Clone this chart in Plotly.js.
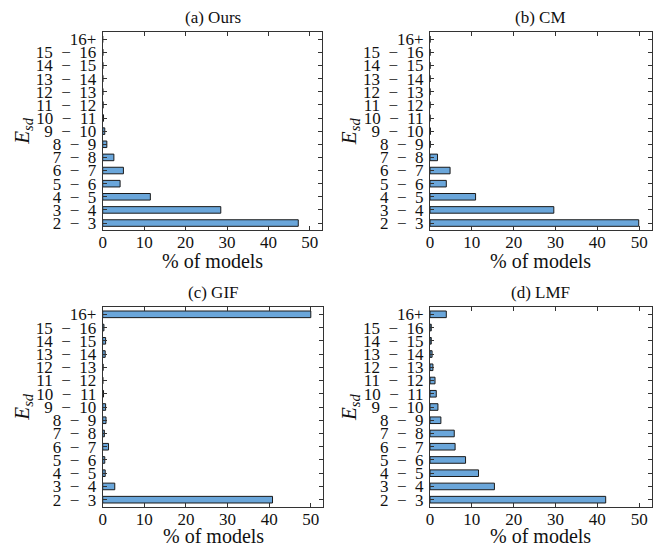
<!DOCTYPE html>
<html>
<head>
<meta charset="utf-8">
<script src="https://cdn.plot.ly/plotly-3.0.1.min.js"></script>
<style>html,body{margin:0;padding:0;background:#fff}#chart{width:662px;height:547px}</style>
</head>
<body>
<div id="chart"></div>
<script>
const categories = ["2 − 3","3 − 4","4 − 5","5 − 6","6 − 7","7 − 8","8 − 9","9 − 10","10 − 11","11 − 12","12 − 13","13 − 14","14 − 15","15 − 16","16+"];
const panelTitles = ["(a) Ours","(b) CM","(c) GIF","(d) LMF"];
const ours = [47.2, 28.5, 11.5, 4.2, 5.0, 2.7, 1.0, 0.5, 0.2, 0.1, 0.05, 0.05, 0.05, 0.05, 0.0];
const cm   = [49.9, 29.6, 10.9, 3.9, 4.8, 1.8, 0.05, 0.1, 0.0, 0.0, 0.0, 0.0, 0.0, 0.0, 0.0];
const gif  = [40.8, 2.9, 0.6, 0.5, 1.4, 0.4, 0.8, 0.7, 0.2, 0.05, 0.1, 0.6, 0.7, 0.3, 50.0];
const lmf  = [42.0, 15.4, 11.6, 8.5, 6.0, 5.8, 2.6, 1.9, 1.5, 1.2, 0.7, 0.5, 0.3, 0.3, 3.9];
const xTicks = [0, 10, 20, 30, 40, 50];
const xLabel = "% of models";
const yLabel = "<i>E</i><sub><i>sd</i></sub>";

const series = [ours, cm, gif, lmf];
const FONT = "'Liberation Serif', 'Times New Roman', serif";
const W = 662, H = 547;
// pixel boxes [left, right, top, bottom]
const boxes = [[102.7, 322.3, 32.3, 230], [430, 651.7, 32.3, 230], [102.7, 323.3, 307.3, 506.7], [430, 651.7, 307.3, 506.7]];
const xTitleGap = [31, 31, 29, 29];
const tickText = categories.map(c => c.replace(" − ", "\u2002−\u2002"));

const data = [];
const layout = {
  width: W, height: H,
  margin: {l: 0, r: 0, t: 0, b: 0},
  paper_bgcolor: "#fff", plot_bgcolor: "#fff",
  showlegend: false,
  font: {family: FONT, color: "#111", size: 15},
  annotations: []
};

series.forEach((vals, i) => {
  const n = i === 0 ? "" : String(i + 1);
  data.push({
    type: "bar", orientation: "h",
    x: vals, y: categories,
    xaxis: "x" + n, yaxis: "y" + n,
    width: 0.5,
    marker: {color: "#6aa6da", line: {color: "#1a1a1a", width: 1}},
    hoverinfo: "x+y"
  });
  const b = boxes[i];
  const common = {
    showline: true, mirror: "ticks", linecolor: "#333", linewidth: 1,
    ticks: "inside", ticklen: 4, tickcolor: "#333", tickwidth: 1,
    showgrid: false, zeroline: false,
    tickfont: {family: FONT, size: 17, color: "#111"}
  };
  layout["xaxis" + n] = Object.assign({}, common, {
    domain: [b[0] / W, b[1] / W],
    anchor: "y" + n,
    range: [0, 53],
    tickmode: "array", tickvals: xTicks,
    ticklabelstandoff: -3
  });
  layout["yaxis" + n] = Object.assign({}, common, {
    domain: [(H - b[3]) / H, (H - b[2]) / H],
    anchor: "x" + n,
    type: "category",
    range: [-0.53, 14.53],
    tickmode: "array", tickvals: categories, ticktext: tickText,
    ticklabelstandoff: 2
  });
  // subplot title
  layout.annotations.push({
    text: panelTitles[i], showarrow: false,
    xref: "paper", yref: "paper",
    x: (b[0] + b[1]) / 2 / W, y: (H - (b[2] - 15)) / H,
    xanchor: "center", yanchor: "middle",
    font: {family: FONT, size: 17, color: "#111"}
  });
  // x-axis title
  layout.annotations.push({
    text: xLabel, showarrow: false,
    xref: "paper", yref: "paper",
    x: (b[0] + b[1]) / 2 / W, y: (H - (b[3] + xTitleGap[i])) / H,
    xanchor: "center", yanchor: "middle",
    font: {family: FONT, size: 20, color: "#111"}
  });
  // y-axis title
  layout.annotations.push({
    text: yLabel, showarrow: false, textangle: -90,
    xref: "paper", yref: "paper",
    x: (b[0] - 80) / W, y: (H - (b[2] + b[3]) / 2) / H,
    xanchor: "center", yanchor: "middle",
    font: {family: FONT, size: 21, color: "#111"}
  });
});

Plotly.newPlot("chart", data, layout, {displayModeBar: false, staticPlot: true});
</script>
</body>
</html>
